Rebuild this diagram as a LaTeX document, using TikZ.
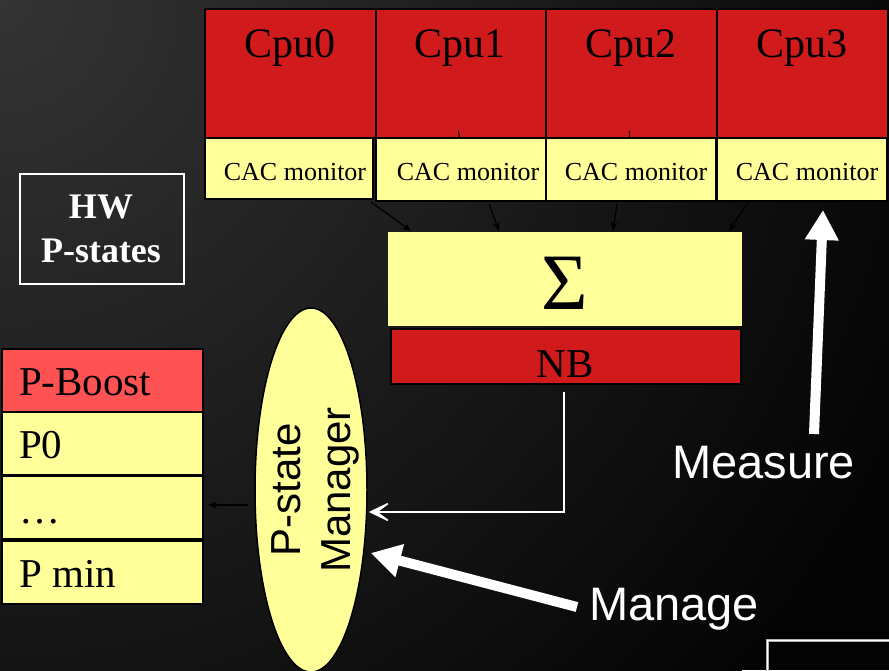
\documentclass[tikz,border=0pt]{standalone}
\usepackage{fontspec}
\setmainfont{Liberation Serif}
\newfontfamily\arialf{Liberation Sans}
\usetikzlibrary{arrows.meta,shapes.geometric,calc}
\definecolor{cpured}{HTML}{D11A1C}
\definecolor{boostred}{HTML}{FF5252}
\definecolor{lemon}{HTML}{FFFF99}
\definecolor{bgA}{HTML}{343434}
\definecolor{bgB}{HTML}{040404}
\begin{document}
\begin{tikzpicture}[x=1pt,y=-1pt,
  box/.style={draw=black, line width=2pt, inner sep=0pt, anchor=north west},
  cpubox/.style={box, fill=cpured, minimum width=171pt, minimum height=129pt},
  cacbox/.style={box, fill=lemon, minimum width=170pt, minimum height=63pt},
  pbox/.style={box, fill=lemon, minimum width=201pt, minimum height=63pt},
  cputext/.style={font=\fontsize{42}{48}\selectfont, anchor=base, text=black, inner sep=0pt},
  cactext/.style={font=\fontsize{26}{30}\selectfont, anchor=base, text=black, inner sep=0pt},
  ptext/.style={font=\fontsize{41}{48}\selectfont, anchor=base west, text=black, inner sep=0pt},
  sanslabel/.style={font=\arialf\fontsize{47}{54}\selectfont, text=white, anchor=base west, inner sep=0pt},
  thinarrow/.style={draw=black, line width=1.2pt, -{Stealth[length=9pt,width=7pt]}},
  bigarrow/.style={draw=white, line width=10pt, -{Triangle[length=30pt,width=32pt]}},
]
\useasboundingbox (0,0) rectangle (889,670);
\begin{scope}
\clip (0,0) rectangle (889,670);
\fill[bgB] (0,0) rectangle (889,670);
\shade[inner color=bgA, outer color=bgB] (0,0) circle (1000);
\end{scope}

% CPU row
\node[cpubox] (cpu0) at (204,8) {};
\node[cpubox] (cpu1) at (375,8) {};
\node[cpubox] (cpu2) at (545,8) {};
\node[cpubox] (cpu3) at (716,8) {};
\node[cputext] (t0) at (290,57) {Cpu0};
\node[cputext] (t1) at (460,57) {Cpu1};
\node[cputext] (t2) at (631,57) {Cpu2};
\node[cputext] (t3) at (802,57) {Cpu3};

% CAC monitors
\node[cacbox, minimum width=168pt, minimum height=61pt] (cac0) at (204,137) {};
\node[cacbox] (cac1) at (375,137) {};
\node[cacbox] (cac2) at (545,137) {};
\node[cacbox] (cac3) at (716,137) {};
\node[cactext] (c0) at (295,180) {CAC monitor};
\node[cactext] (c1) at (468,180) {CAC monitor};
\node[cactext] (c2) at (636,180) {CAC monitor};
\node[cactext] (c3) at (807,180) {CAC monitor};

% tiny ticks from cpus
\draw[black, line width=1pt] ([xshift=-3pt,yshift=8pt]cpu1.south) -- ([xshift=-2pt,yshift=1pt]cpu1.south);
\draw[black, line width=1pt] ([xshift=-2pt,yshift=8pt]cpu2.south) -- ([xshift=-2pt,yshift=1pt]cpu2.south);

% Sigma and NB
\node[box, fill=lemon, draw=none, minimum width=354pt, minimum height=94pt] (sigma) at (387,231) {};
\node[font=\fontsize{80}{90}\selectfont, anchor=base, inner sep=0pt] (sig) at (565,309) {Σ};
\node[box, fill=cpured, line width=1.5pt, minimum width=350pt, minimum height=55pt] (nb) at (390,328) {};
\node[cputext, font=\fontsize{41}{48}\selectfont] (nbt) at (565,377) {NB};

% CAC -> Sigma arrows
\draw[thinarrow] ([xshift=-3pt,yshift=-2pt]cac0.south east) -- ([xshift=24pt]sigma.north west);
\draw[thinarrow] ([xshift=28pt,yshift=-2pt]cac1.south) -- ([xshift=112pt]sigma.north west);
\draw[thinarrow] ([xshift=-14pt,yshift=-2pt]cac2.south) -- ([xshift=226pt]sigma.north west);
\draw[thinarrow] ([xshift=31pt,yshift=-2pt]cac3.south west) -- ([xshift=-14pt]sigma.north east);

% HW P-states
\node[draw=white, line width=2pt, minimum width=164pt, minimum height=110pt, anchor=north west, inner sep=0pt] (hw) at (19,173) {};
\node[font=\bfseries\fontsize{36}{42}\selectfont, text=white, anchor=base, inner sep=0pt] (hw1) at (101,218) {HW};
\node[font=\bfseries\fontsize{36}{42}\selectfont, text=white, anchor=base, inner sep=0pt] (hw2) at (101,262) {P-states};

% P-state list
\node[pbox, fill=boostred] (pb) at (1,348) {};
\node[pbox] (p0) at (1,411) {};
\node[pbox] (pd) at (1,475) {};
\node[pbox] (pm) at (1,540) {};
\node[ptext] (pbt) at (19,395) {P-Boost};
\node[ptext] (p0t) at (19,458) {P0};
\node[ptext] (pdt) at (19,523) {…};
\node[ptext] (pmt) at (19,587) {P min};

% P-state manager
\node[ellipse, draw=black, line width=1.5pt, fill=lemon, minimum width=112pt, minimum height=364pt, inner sep=0pt] (mgr) at (311,490) {};
\node[rotate=90, align=center, font=\arialf\fontsize{42}{50}\selectfont, text=black, inner sep=0pt] (mgrt) at (315,490) {P-state\\Manager};

% manager -> list
\coordinate (mgrleft) at ([xshift=-6pt,yshift=-15pt]mgr.west);
\draw[thinarrow] (mgrleft) -- ([xshift=4pt]pd.east |- mgrleft);

% NB -> manager
\draw[white, line width=1.5pt, -{Stealth[length=26pt,width=25pt,inset=17pt]}] ([xshift=-2pt,yshift=-7pt]nb.south) |- ([xshift=1pt,yshift=-22pt]mgr.east);

% Measure / Manage
\node[sanslabel] (meas) at (672,478) {Measure};
\node[sanslabel] (man) at (589,620) {Manage};
\coordinate (measfoot) at (814,434);
\coordinate (manfoot) at (577,607);
\draw[bigarrow] (measfoot) -- ([xshift=21pt,yshift=-8pt]cac3.south);
\draw[bigarrow] (manfoot) -- ([xshift=3pt,yshift=-63pt]mgr.east);

% partial box bottom right
\draw[gray!60!white, line width=3pt] (767,640) rectangle (900,690);
\draw[white, line width=0.8pt] (767,640) rectangle (900,690);
\end{tikzpicture}
\end{document}
